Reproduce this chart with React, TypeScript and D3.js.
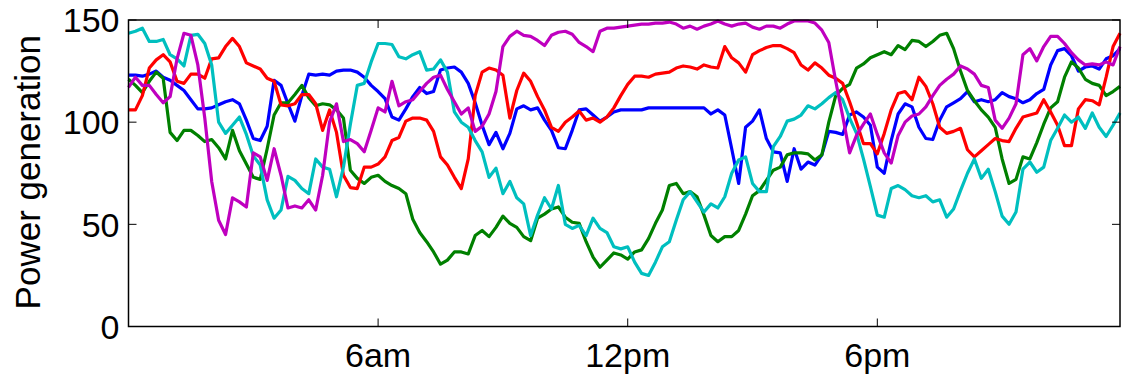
import React, { useEffect, useRef } from 'react';
import * as d3 from 'd3';

// 10-minute samples over one day (index 0..143)
const blue = [
  123, 123, 122.5, 123.5, 125, 122, 120.5, 118, 115.5, 111,
  106.5, 106.5, 107, 108.5, 110, 111, 109, 101, 92, 91,
  98, 120.5, 118, 109, 100.5, 113, 123.5, 123, 123.5, 123,
  125, 125.5, 125.5, 124.5, 122, 118, 115, 111.5, 102.5, 101,
  106.5, 112.5, 117, 114, 115, 125.5, 126.5, 127, 124.5, 119,
  109.5, 98.5, 89, 95, 87, 94.5, 106.5, 108, 106, 107,
  101, 96, 87.5, 87, 96, 106, 106.5, 103.5, 100.5, 102.5,
  105, 106, 106, 106, 106, 107, 107, 107, 107, 107,
  107, 107, 107, 107, 104, 106, 103.5, 87, 70, 97.5,
  100.5, 106, 92, 85.5, 85, 71, 87, 77, 80.5, 79,
  84, 95.5, 95, 94, 103.5, 105, 102.5, 98.5, 78, 75,
  91, 104, 109, 107.5, 97.5, 92, 91.5, 101, 107.5, 109.5,
  111.5, 115, 110, 111, 110, 111, 114.5, 112.5, 111.5, 109.5,
  111, 114, 116, 128, 135, 136, 132.5, 125, 127, 127.5,
  126, 131, 132.5, 136,
];

const green = [
  121, 118, 114.5, 120, 124.5, 121.5, 95, 91, 96, 96,
  93.5, 90.5, 91.5, 87.5, 82, 96, 86, 79.5, 73, 72,
  87, 103.5, 109.5, 109.5, 113.5, 118, 112, 108, 109, 108.5,
  106, 102, 76.5, 72.5, 70, 73, 74, 71, 69, 67.5,
  65, 52.5, 46, 41.5, 36.5, 30.5, 32.5, 36.5, 36.5, 35.5,
  44.5, 47, 44, 48.5, 54, 50.5, 48.5, 44, 42, 53,
  55, 57.5, 58.5, 53.5, 51, 50.5, 41.5, 34, 29, 32.5,
  36, 35, 33, 36.5, 37.5, 43, 50.5, 57, 69, 70,
  65, 66, 63.5, 54.5, 44.5, 41.5, 44, 44, 47, 55,
  64, 66.5, 71.5, 76.5, 78, 84, 85, 85, 84.5, 81.5,
  84, 100, 113, 116.5, 118.5, 126.5, 128.5, 131.5, 133, 134.5,
  133, 137.5, 135.5, 140, 139.5, 137, 139.5, 142.5, 143.5, 136,
  125, 115.5, 110.5, 106, 102.5, 97.5, 82, 70, 72, 83,
  82, 90, 99, 107, 110, 122, 129.5, 126.5, 121, 119,
  118, 113, 115, 117.5,
];

const red = [
  106, 106, 113, 126.5, 130.5, 133, 129.5, 120, 119, 123.5,
  123.5, 121.5, 131, 131.5, 137, 141, 137, 129, 127.5, 126,
  121.5, 120, 108.5, 108, 109, 113.5, 113.5, 109, 96, 106,
  95, 74, 68, 67.5, 78, 78, 79.5, 83, 91, 92.5,
  100.5, 102, 102, 101, 95.5, 83, 79, 73, 67.5, 82,
  113, 124.5, 126.5, 125.5, 123, 102, 115.5, 124, 120, 112.5,
  106, 97.5, 95.5, 100, 102.5, 105.5, 101, 102, 100, 102.5,
  107, 113, 118.5, 122.5, 122.5, 122, 123.5, 124, 124.5, 126.5,
  127.5, 127, 126, 128, 127, 126.5, 137, 131.5, 129, 124.5,
  133, 135, 136.5, 137.5, 137.5, 136, 134, 128, 125.5, 129,
  126.5, 123, 121.5, 119, 110, 100, 89.5, 89.5, 84.5, 94.5,
  106, 114, 115, 111, 122, 117.5, 109, 97.5, 94.5, 95.5,
  97, 86.5, 83, 86, 89, 92, 91, 90.5, 97, 102.5,
  103.5, 104.5, 111, 105, 98.5, 88.5, 88.5, 106.5, 111, 110.5,
  108.5, 122, 137, 143.5,
];

const cyan = [
  143.5, 144.5, 146, 139.5, 139.5, 140.5, 133, 131, 127.5, 142.5,
  143, 138.5, 128, 100, 94.5, 98.5, 102.5, 94, 83.5, 79,
  62, 53, 57, 73.5, 71.5, 67.5, 65, 82, 78, 77,
  63.5, 78, 99, 118, 119, 129.5, 138.5, 138.5, 138, 132,
  131, 133, 134.5, 125.5, 126, 130.5, 124.5, 105, 100, 97.5,
  91, 85.5, 73, 77.5, 65, 71, 63, 60, 44.5, 54.5,
  63, 57.5, 69, 50, 48, 49.5, 44.5, 53, 48, 46,
  39, 38, 39, 31.5, 26, 25, 31.5, 39, 41.5, 52,
  62, 66, 61, 56, 60, 58, 63.5, 75, 81.5, 83,
  70, 66, 66, 88, 93, 100.5, 101.5, 103.5, 108, 106.5,
  109, 112, 114.5, 111, 102, 94.5, 82, 68.5, 54.5, 53.5,
  67.5, 69, 67, 64, 63, 64, 61, 62, 53.5, 57.5,
  66.5, 75, 82, 72.5, 77, 66, 54, 50, 56, 77,
  80.5, 75.5, 78, 91, 97, 103.5, 100, 102.5, 97, 104.5,
  97.5, 93, 98.5, 104.5,
];

const magenta = [
  117, 122, 118, 118, 113.5, 109.5, 112.5, 131, 143.5, 142.5,
  128, 102, 71, 52, 45, 63, 61, 58.5, 85, 83,
  71.5, 87, 74, 58, 59, 58, 62, 57, 74, 100,
  109, 90.5, 91.5, 89.5, 85.5, 96, 107, 105, 120, 108,
  110, 111, 115, 119, 122, 123, 116, 110, 104, 107,
  95.5, 98, 104, 115, 137, 142, 144.5, 142.5, 142, 140,
  137.5, 142.5, 144, 144.5, 143, 139, 137, 134.5, 144.5, 146,
  146, 146.5, 147, 147.5, 148, 148, 148.5, 148.5, 149, 148,
  146, 147, 145.5, 147, 148, 149.5, 148, 147, 148, 148.5,
  146.5, 145.5, 147, 147, 146, 148, 149.5, 149.5, 149.5, 148.5,
  145, 139, 120, 103, 85, 93.5, 99, 104, 94, 85,
  80, 93.5, 100, 103, 104, 107.5, 113, 118, 121, 123.5,
  127.5, 126, 123.5, 118, 117, 101, 97, 102, 109, 133,
  136, 130, 137, 142, 142, 138.5, 134, 130.5, 128, 128.5,
  128, 129.5, 128, 137,
];

const seriesList = [
  { name: 'blue', values: blue, color: '#0000ff' },
  { name: 'green', values: green, color: '#008000' },
  { name: 'red', values: red, color: '#ff0000' },
  { name: 'cyan', values: cyan, color: '#00bfbf' },
  { name: 'magenta', values: magenta, color: '#bf00bf' },
];

const yTicks = [0, 50, 100, 150];
const xTicks = [36, 72, 108];
const xTickLabels = ['6am', '12pm', '6pm'];

const FONT = '"Liberation Sans", Arial, Helvetica, sans-serif';

const App: React.FC = () => {
  const chartRef = useRef<SVGSVGElement | null>(null);

  useEffect(() => {
    if (!chartRef.current) return;

    const width = 1125;
    const height = 375;
    const left = 128.5;
    const right = 1120;
    const top = 20;
    const bottom = 326.5;

    const svg = d3.select(chartRef.current)
      .attr('width', width)
      .attr('height', height);
    svg.selectAll('*').remove();

    const xScale = d3.scaleLinear().domain([0, 143]).range([left, right]);
    const yScale = d3.scaleLinear().domain([0, 150]).range([bottom, top]);

    // lines
    const line = d3.line<number>()
      .x((_, i) => xScale(i))
      .y((d) => yScale(d));

    seriesList.forEach((s) => {
      svg.append('path')
        .datum(s.values)
        .attr('d', line)
        .attr('fill', 'none')
        .attr('stroke', s.color)
        .attr('stroke-width', 3.2)
        .attr('stroke-linejoin', 'round');
    });

    // frame
    svg.append('rect')
      .attr('x', left)
      .attr('y', top)
      .attr('width', right - left)
      .attr('height', bottom - top)
      .attr('fill', 'none')
      .attr('stroke', '#000')
      .attr('stroke-width', 1.5);

    const tickLen = 8;

    // y ticks (inside, both sides)
    yTicks.forEach((t) => {
      const y = yScale(t);
      svg.append('line')
        .attr('x1', left).attr('x2', left + tickLen)
        .attr('y1', y).attr('y2', y)
        .attr('stroke', '#000').attr('stroke-width', 1);
      svg.append('line')
        .attr('x1', right).attr('x2', right - tickLen)
        .attr('y1', y).attr('y2', y)
        .attr('stroke', '#000').attr('stroke-width', 1);
      svg.append('text')
        .attr('x', left - 9)
        .attr('y', y)
        .attr('dy', '0.36em')
        .attr('text-anchor', 'end')
        .style('font-family', FONT)
        .style('font-size', '34px')
        .text(t);
    });

    // x ticks (inside, top and bottom)
    xTicks.forEach((t, i) => {
      const x = xScale(t);
      svg.append('line')
        .attr('x1', x).attr('x2', x)
        .attr('y1', bottom).attr('y2', bottom - tickLen)
        .attr('stroke', '#000').attr('stroke-width', 1);
      svg.append('line')
        .attr('x1', x).attr('x2', x)
        .attr('y1', top).attr('y2', top + tickLen)
        .attr('stroke', '#000').attr('stroke-width', 1);
      svg.append('text')
        .attr('x', x)
        .attr('y', 367)
        .attr('text-anchor', 'middle')
        .style('font-family', FONT)
        .style('font-size', '34px')
        .text(xTickLabels[i]);
    });

    // y axis label
    svg.append('text')
      .attr('transform', `translate(40,${(top + bottom) / 2 - 1}) rotate(-90)`)
      .attr('text-anchor', 'middle')
      .style('font-family', FONT)
      .style('font-size', '35px')
      .text('Power generation');
  }, []);

  return (
    <svg ref={chartRef} style={{ position: 'absolute', left: 0, top: 0 }}></svg>
  );
};

export default App;
